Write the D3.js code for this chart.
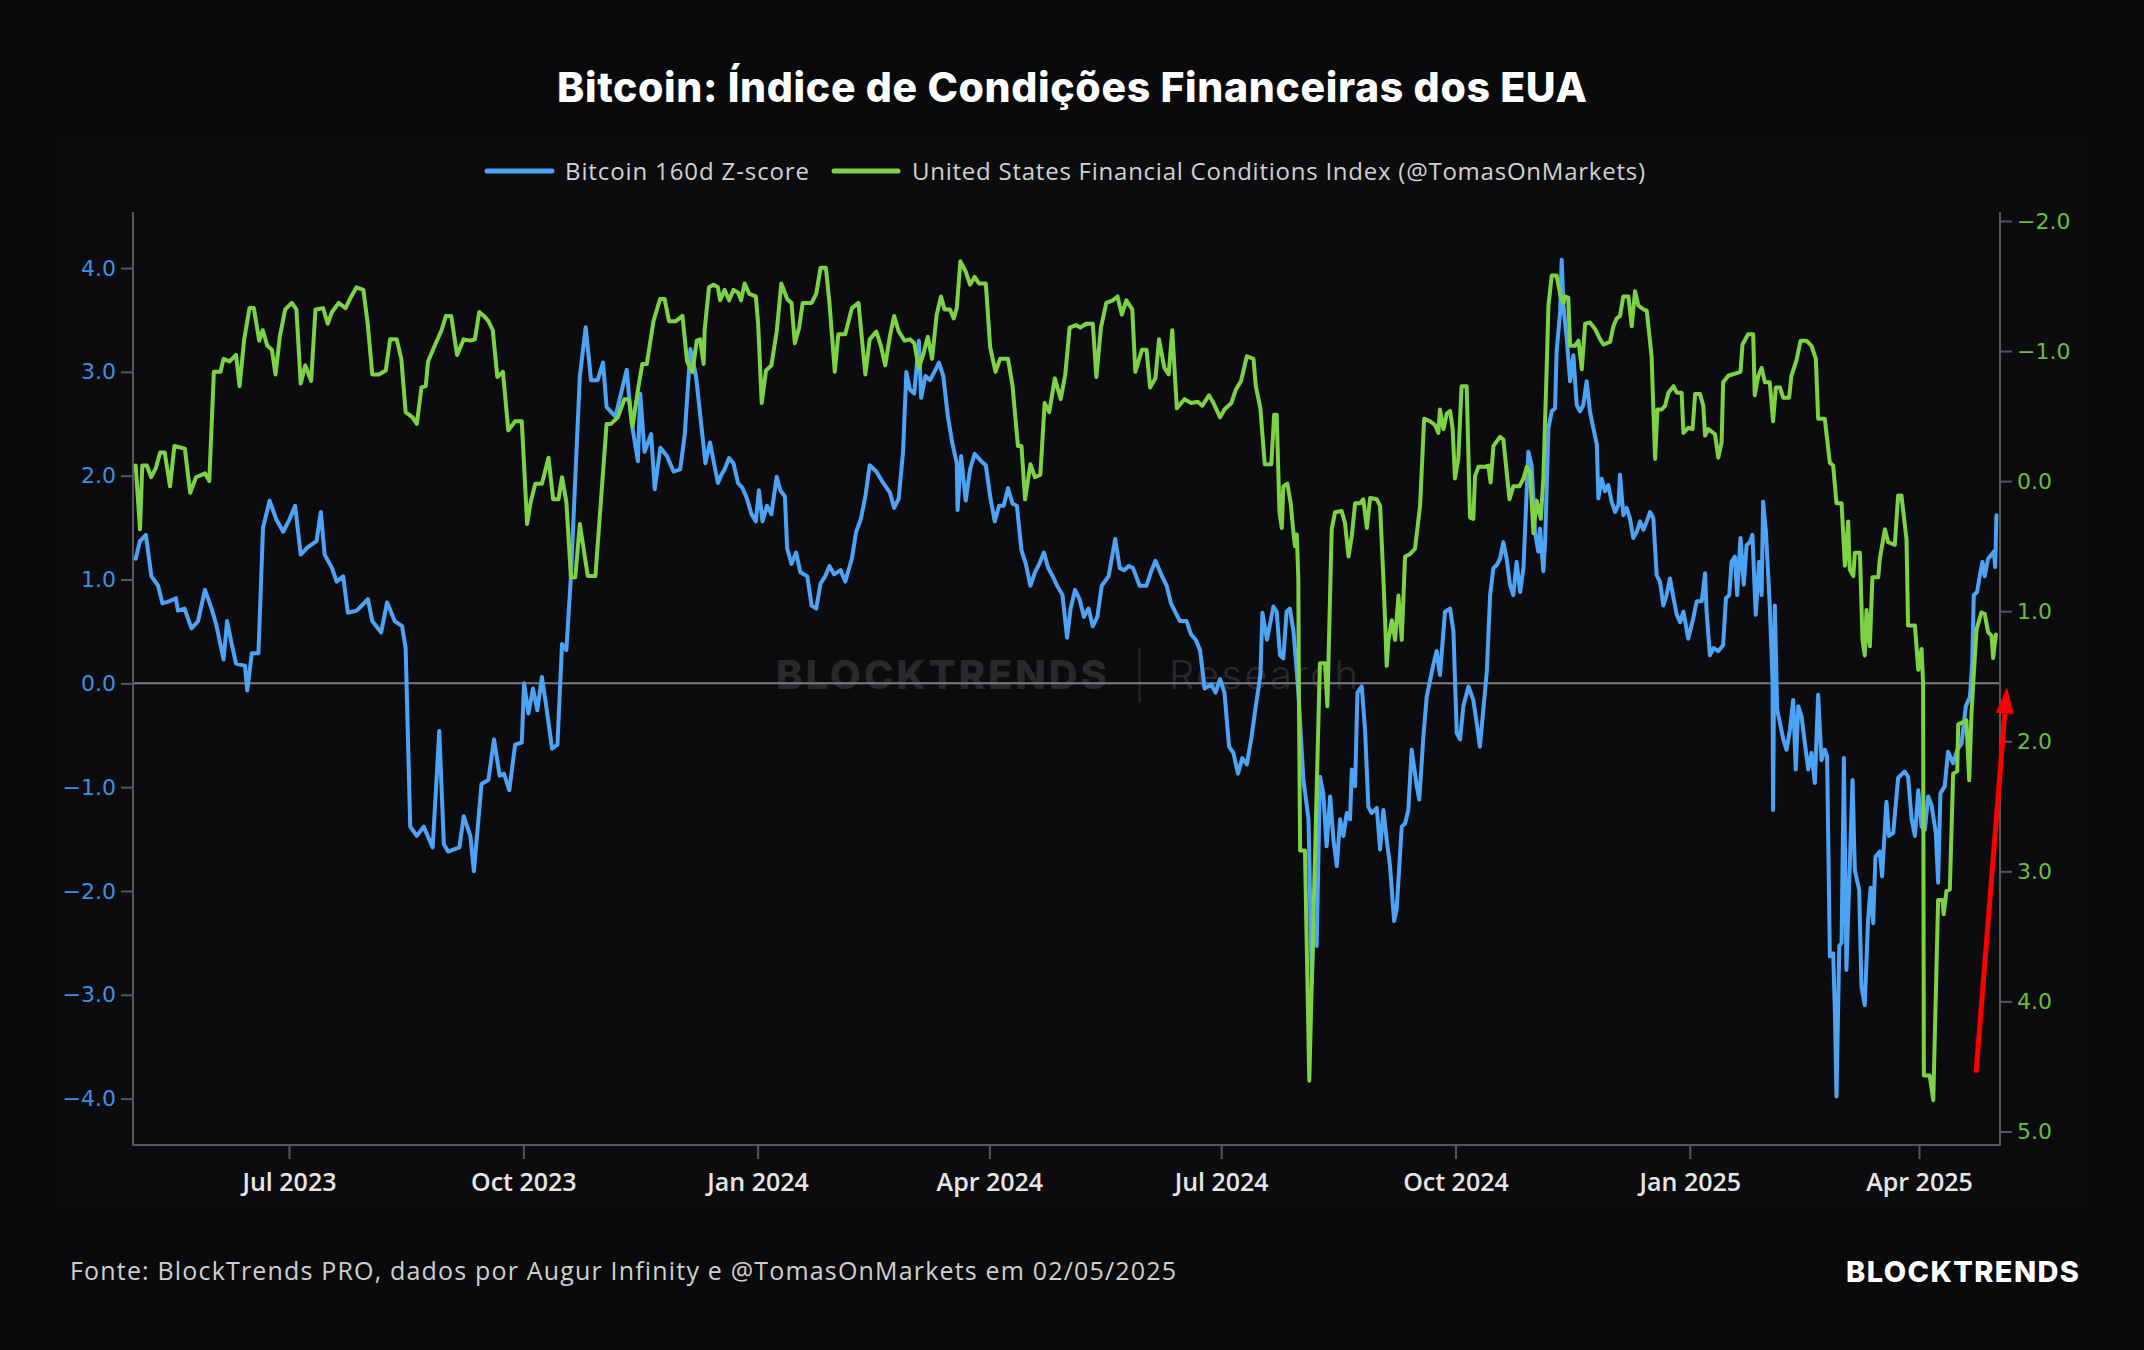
<!DOCTYPE html>
<html>
<head>
<meta charset="utf-8">
<script src="https://cdn.jsdelivr.net/npm/d3@7"></script>
<style>
  html, body { margin: 0; padding: 0; background: #0a0a0c; }
  svg { display: block; }
</style>
</head>
<body>
<svg id="chart" width="2144" height="1350"></svg>
<script>
// ---------------- DATA ----------------
const START_DATE = "2023-05-01";   // day 0 of the day offsets below
const seriesNames = ["Bitcoin 160d Z-score", "United States Financial Conditions Index (@TomasOnMarkets)"];
const titleText = "Bitcoin: Índice de Condições Financeiras dos EUA";
const sourceText = "Fonte: BlockTrends PRO, dados por Augur Infinity e @TomasOnMarkets em 02/05/2025";
const brandText = "BLOCKTRENDS";

// Bitcoin 160d Z-score (left axis): day offsets from START_DATE and values
const btcDay = [
  0.8,2.5,4.8,7.0,9.6,11.3,13.9,16.6,17.4,20.0,
  22.7,25.3,28.0,30.6,32.4,35.3,36.7,38.5,40.2,43.7,
  44.6,46.4,49.0,50.8,53.4,56.0,58.7,61.2,63.4,65.6,
  68.3,71.8,73.5,75.0,77.9,79.7,82.3,84.1,87.6,92.0,
  93.7,97.2,99.5,102.5,105.4,106.8,108.6,111.2,113.9,117.4,
  120.0,121.8,123.5,127.9,129.6,132.2,133.6,136.6,139.3,141.5,
  143.7,145.4,147.5,149.8,152.4,153.3,155.0,156.8,158.5,160.3,
  162.0,164.3,166.4,168.2,169.9,171.7,175.2,177.5,179.6,182.2,
  184.3,185.7,189.2,193.6,195.4,198.0,198.9,200.6,203.2,204.6,
  206.8,209.4,212.0,214.6,216.4,218.6,220.8,
  224.5,226.3,227.7,229.4,230.8,232.0,233.8,235.5,237.3,239.1,
  240.8,242.6,244.3,245.5,246.9,248.7,250.4,252.5,253.9,255.7,
  256.6,258.3,260.1,261.8,264.5,266.2,268.0,269.7,271.5,273.2,
  275.0,277.6,279.4,282.0,283.7,285.5,287.3,289.0,291.6,294.3,
  296.9,298.6,300.4,302.1,303.4,304.8,306.5,308.3,309.2,310.9,
  312.7,314.4,316.2,317.9,319.7,321.4,323.2,323.5,324.9,326.7,
  328.4,330.2,332.8,334.6,336.3,338.1,339.8,341.6,343.3,345.1,
  346.8,348.6,350.3,352.1,353.9,355.6,357.4,359.1,360.9,362.6,
  364.7,366.5,367.9,369.6,371.4,373.1,374.9,376.6,378.4,380.1,
  382.8,385.4,387.2,388.9,390.7,392.4,395.0,397.7,399.4,401.2,
  403.8,405.6,407.3,409.1,410.8,413.4,415.2,417.0,418.7,420.5,
  423.1,424.8,426.6,428.3,430.1,431.8,433.6,435.3,437.1,438.9,
  440.6,442.4,443.2,445.0,
  447.5,448.8,450.1,451.4,452.7,454.0,455.4,456.7,457.3,459.3,
  461.3,462.6,463.2,464.5,465.8,467.1,468.4,469.8,471.1,472.4,
  473.7,475.0,476.3,477.6,478.3,479.6,480.5,482.2,483.5,484.8,
  486.1,488.1,489.4,490.7,492.0,493.3,494.9,495.9,497.9,499.2,
  500.5,501.8,503.8,504.8,506.4,507.7,510.3,511.6,512.9,514.9,
  516.9,518.2,519.5,520.8,522.1,524.1,526.0,527.3,528.6,531.3,
  532.6,533.9,535.2,536.5,537.8,539.1,540.4,541.7,543.0,544.4,
  545.7,546.3,547.6,548.9,549.6,550.2,551.5,552.2,553.5,554.2,
  555.5,556.8,558.1,558.7,560.1,560.7,561.4,562.0,562.7,564.0,
  565.3,566.6,567.9,569.2,570.5,571.8,573.1,574.5,575.1,576.4,
  577.7,579.0,580.3,581.7,583.0,583.6,584.9,586.2,587.5,588.8,
  590.2,591.5,592.8,594.1,595.4,596.7,598.0,599.3,600.6,601.9,
  603.2,604.6,605.9,607.2,608.5,610.4,612.4,613.7,615.7,617.0,
  617.6,618.9,620.3,622.2,
  624.1,625.2,626.5,627.4,628.7,629.6,630.9,632.2,633.3,634.6,
  635.6,636.3,636.9,638.2,639.2,639.8,640.9,642.4,643.5,643.7,
  644.1,644.4,645.3,646.4,647.7,649.0,650.3,651.6,652.6,653.6,
  654.9,656.2,657.5,658.8,660.1,661.4,662.7,664.0,664.9,666.0,
  667.3,668.0,668.6,669.7,670.6,671.5,672.5,674.9,675.8,677.5,
  678.4,679.7,681.0,682.0,683.0,683.9,685.6,686.5,688.2,689.2,
  690.9,692.8,695.4,696.7,698.1,699.4,700.7,702.0,703.3,704.6,
  705.9,707.6,708.5,709.4,711.1,712.4,714.4,716.0,717.7,719.4,
  721.0,721.9,722.5,723.8,724.9,725.9,726.8,728.1,729.5,730.4,
  730.9,731.4
];
const btcZ = [
  1.20,1.37,1.43,1.03,0.94,0.77,0.79,0.82,0.70,0.72,
  0.53,0.60,0.90,0.72,0.57,0.23,0.60,0.38,0.19,0.17,
  -0.07,0.29,0.29,1.50,1.76,1.58,1.46,1.58,1.71,1.24,
  1.31,1.37,1.65,1.24,1.11,0.98,1.03,0.68,0.70,0.81,
  0.60,0.49,0.78,0.60,0.55,0.34,-1.38,-1.47,-1.38,-1.58,
  -0.46,-1.55,-1.62,-1.58,-1.28,-1.47,-1.81,-0.97,-0.93,-0.54,
  -0.89,-0.87,-1.03,-0.59,-0.57,0.00,-0.29,-0.05,-0.26,0.06,
  -0.22,-0.63,-0.59,0.38,0.32,1.03,2.96,3.43,2.92,2.92,
  3.09,2.66,2.57,3.02,2.53,2.14,2.79,2.23,2.40,1.87,
  2.27,2.19,2.04,2.06,2.40,3.22,2.96,
  2.12,2.32,2.14,1.93,2.01,2.06,2.17,2.12,1.93,1.88,
  1.78,1.63,1.56,1.86,1.56,1.71,1.63,1.99,1.86,1.80,
  1.30,1.15,1.26,1.07,1.03,0.75,0.72,0.96,1.03,1.13,
  1.05,1.09,0.98,1.20,1.46,1.58,1.80,2.10,2.04,1.93,
  1.84,1.69,1.78,2.23,3.00,2.83,2.79,3.30,2.75,2.96,
  2.92,3.00,3.09,2.96,2.57,2.32,2.12,1.67,2.19,1.76,
  2.06,2.21,2.14,2.10,1.80,1.56,1.71,1.71,1.88,1.73,
  1.71,1.28,1.15,0.94,1.07,1.15,1.26,1.11,1.03,0.94,
  0.85,0.44,0.72,0.90,0.81,0.64,0.72,0.55,0.64,0.94,
  1.03,1.39,1.11,1.09,1.13,1.11,0.94,0.94,1.07,1.18,
  1.03,0.94,0.77,0.68,0.60,0.60,0.47,0.42,0.32,-0.05,
  -0.01,-0.09,0.04,-0.09,-0.61,-0.67,-0.87,-0.72,-0.78,-0.52,
  -0.22,0.08,0.68,0.42,
  0.74,0.69,0.27,0.24,0.69,0.72,0.50,0.11,-0.09,-0.93,
  -1.31,-2.89,-2.34,-2.53,-0.90,-1.06,-1.57,-1.09,-1.51,-1.76,
  -1.31,-1.47,-1.25,-1.31,-0.83,-0.99,-0.09,-0.03,-0.45,-1.19,
  -1.25,-1.20,-1.60,-1.22,-1.51,-1.76,-2.29,-2.18,-1.38,-1.35,
  -1.22,-0.64,-0.99,-1.12,-0.51,-0.13,0.18,0.31,0.08,0.69,
  0.72,0.50,-0.48,-0.54,-0.22,-0.03,-0.16,-0.38,-0.61,0.11,
  0.85,1.11,1.14,1.20,1.36,1.20,0.95,0.85,1.17,0.88,
  1.11,1.46,2.23,2.10,1.78,1.46,1.27,1.49,1.08,1.36,
  2.46,2.62,2.65,3.19,3.58,4.08,3.64,3.48,3.32,2.91,
  3.16,2.68,2.62,2.68,2.91,2.62,2.46,2.30,1.78,1.97,
  1.85,1.91,1.75,1.65,1.72,2.01,1.62,1.69,1.59,1.40,
  1.46,1.56,1.48,1.56,1.65,1.59,1.04,0.98,0.75,0.85,
  1.01,0.82,0.66,0.59,0.69,0.43,0.63,0.79,0.79,1.06,
  0.69,0.27,0.34,0.31,
  0.37,0.82,0.85,1.17,1.22,0.85,1.40,0.95,1.33,1.36,
  1.43,1.01,0.66,1.17,0.85,1.75,1.46,0.75,0.02,-1.22,
  0.02,0.75,-0.25,-0.38,-0.54,-0.64,-0.45,-0.16,-0.83,-0.22,
  -0.32,-0.58,-0.83,-0.67,-0.96,-0.11,-0.74,-0.64,-0.70,-2.63,
  -2.60,-3.18,-3.98,-2.53,-2.50,-0.72,-2.76,-0.93,-1.80,-1.99,
  -2.92,-3.10,-2.28,-1.97,-2.31,-1.67,-1.62,-1.86,-1.14,-1.47,
  -1.44,-0.91,-0.85,-0.90,-1.31,-1.47,-1.03,-1.38,-1.41,-1.09,
  -1.17,-1.44,-1.92,-1.06,-0.99,-0.66,-0.77,-0.64,-0.58,-0.22,
  -0.13,0.21,0.85,0.88,1.04,1.17,1.03,1.20,1.24,1.27,
  1.12,1.62
];

// US Financial Conditions Index (right axis, inverted): day offsets and values
const fciDay = [
  0.8,2.5,3.4,5.2,6.9,8.7,10.4,12.2,14.3,16.0,
  20.1,22.2,24.5,28.0,29.7,31.5,34.1,35.3,37.6,40.2,
  41.6,43.4,45.5,47.2,49.3,50.7,52.5,54.3,55.7,57.4,
  59.5,62.1,63.9,65.6,67.4,69.7,71.4,74.4,76.2,77.9,
  80.5,83.2,84.9,87.5,90.2,91.9,93.7,96.3,99.0,100.7,
  103.3,105.1,106.8,109.5,111.2,113.0,114.7,115.6,118.2,120.9,
  122.6,124.7,127.0,129.6,132.2,134.0,135.7,137.5,139.3,141.0,
  142.8,145.0,147.1,149.8,152.4,154.5,155.9,157.7,160.3,162.9,
  164.7,166.8,168.2,169.9,171.7,173.4,175.2,178.3,181.3,185.7,
  187.4,190.1,192.7,194.5,195.9,198.0,199.7,201.5,204.1,206.7,
  208.5,210.2,212.9,215.5,217.3,219.4,221.1,
  222.4,223.8,224.2,225.9,227.7,229.4,230.3,232.0,233.8,235.5,
  237.3,238.5,239.9,241.7,244.3,245.2,246.6,248.3,250.4,252.5,
  254.3,256.6,258.3,259.6,261.3,262.7,266.2,268.0,269.7,271.8,
  273.2,275.3,276.7,279.4,282.0,284.6,287.3,289.0,291.6,293.4,
  295.1,296.9,298.6,300.4,302.7,304.8,306.5,308.3,310.0,311.8,
  313.5,315.3,317.0,318.4,320.5,322.0,323.2,324.6,326.7,328.4,
  330.2,331.9,334.6,336.3,338.4,340.2,343.3,345.1,347.2,348.6,
  350.0,352.1,353.9,356.0,357.7,359.5,361.7,364.0,365.8,367.5,
  370.0,371.7,374.0,376.6,378.0,379.8,381.9,384.5,386.3,388.0,
  389.8,392.1,393.3,395.9,397.7,399.1,401.2,402.6,404.7,406.4,
  407.8,409.6,412.6,415.2,417.8,419.6,422.2,424.0,426.6,428.3,
  431.0,432.7,434.8,437.1,439.7,440.6,442.4,444.1,446.7,447.8,
  448.8,449.9,450.8,451.4,453.0,454.3,455.4,456.0,456.7,457.3,
  457.5,458.0,459.9,461.6,465.6,465.8,467.8,468.7,470.4,471.7,
  474.3,475.6,477.0,478.3,479.6,481.5,482.8,484.2,485.5,488.1,
  489.4,490.7,491.4,492.0,492.7,494.0,495.3,496.6,497.9,499.2,
  501.2,503.1,505.1,506.7,509.0,511.0,512.3,512.9,514.3,515.6,
  516.9,517.9,518.8,520.1,521.4,523.4,524.7,526.0,526.7,528.0,
  530.6,531.9,532.8,533.9,536.5,537.8,539.1,540.2,541.7,544.1,
  545.7,547.0,548.3,549.6,550.9,552.5,553.5,554.8,555.5,556.8,
  558.7,560.3,561.4,562.0,563.3,564.0,565.9,567.3,568.6,569.9,
  571.8,573.8,575.8,577.1,579.7,581.0,582.3,583.6,584.9,586.9,
  588.2,589.5,590.8,592.8,594.1,596.0,596.7,597.4,598.3,600.0,
  601.3,602.6,604.6,605.9,607.8,608.5,610.4,612.1,613.1,615.0,
  616.3,617.0,618.3,620.9,622.2,623.5,
  624.1,626.1,630.9,631.7,633.9,635.9,636.5,637.9,639.2,640.5,
  642.4,643.7,644.8,646.4,647.7,650.0,650.9,652.9,654.5,656.8,
  658.8,660.5,661.4,664.0,666.0,667.3,668.6,670.6,671.9,673.2,
  673.8,675.2,675.8,677.8,678.8,679.7,680.4,681.7,682.7,685.0,
  685.6,687.6,688.9,691.5,692.8,694.1,696.1,696.7,699.4,700.7,
  702.0,702.6,702.9,705.2,706.6,708.5,710.2,710.7,711.8,713.1,
  714.4,716.0,716.4,719.6,720.7,721.6,722.3,723.6,725.5,726.8,
  728.1,729.5,730.1,731.2
];
const fciValue = [
  -0.12,0.37,-0.12,-0.12,-0.03,-0.10,-0.22,-0.22,0.04,-0.27,
  -0.25,0.09,-0.03,-0.06,0.00,-0.84,-0.84,-0.94,-0.92,-0.97,
  -0.73,-1.09,-1.33,-1.33,-1.08,-1.16,-1.04,-1.01,-0.82,-1.11,
  -1.32,-1.37,-1.32,-0.75,-0.89,-0.77,-1.32,-1.33,-1.21,-1.30,
  -1.37,-1.33,-1.40,-1.49,-1.47,-1.21,-0.82,-0.82,-0.85,-1.09,
  -1.09,-0.94,-0.53,-0.49,-0.44,-0.72,-0.73,-0.92,-1.04,-1.16,
  -1.27,-1.27,-0.97,-1.09,-1.08,-1.09,-1.30,-1.27,-1.23,-1.16,
  -0.80,-0.84,-0.39,-0.46,-0.46,0.33,0.16,0.02,0.02,-0.18,
  0.14,0.14,-0.03,0.16,0.74,0.74,0.33,0.73,0.73,-0.44,
  -0.44,-0.49,-0.63,-0.63,-0.42,-0.70,-0.90,-0.90,-1.23,-1.40,
  -1.40,-1.23,-1.23,-1.27,-0.92,-0.84,-1.08,
  -1.09,-0.90,-1.16,-1.49,-1.51,-1.49,-1.39,-1.47,-1.39,-1.47,
  -1.45,-1.39,-1.52,-1.44,-1.42,-1.21,-0.60,-0.85,-0.89,-1.15,
  -1.52,-1.40,-1.37,-1.06,-1.18,-1.37,-1.37,-1.44,-1.64,-1.64,
  -1.37,-0.84,-1.13,-1.13,-1.33,-1.37,-0.82,-1.09,-1.15,-1.04,
  -0.89,-1.11,-1.27,-1.15,-1.08,-1.09,-1.06,-0.87,-0.97,-1.11,
  -0.94,-1.28,-1.42,-1.32,-1.32,-1.25,-1.33,-1.69,-1.61,-1.51,
  -1.57,-1.52,-1.52,-1.03,-0.84,-0.94,-0.94,-0.73,-0.27,-0.27,
  0.14,-0.13,-0.03,-0.05,-0.60,-0.53,-0.79,-0.63,-0.82,-1.18,
  -1.20,-1.18,-1.21,-1.21,-0.80,-1.18,-1.37,-1.39,-1.42,-1.28,
  -1.39,-1.32,-0.84,-1.01,-1.01,-0.72,-0.79,-1.09,-0.87,-0.82,
  -1.16,-0.56,-0.63,-0.60,-0.61,-0.58,-0.66,-0.60,-0.49,-0.55,
  -0.60,-0.70,-0.77,-0.96,-0.94,-0.73,-0.56,-0.13,-0.13,-0.51,
  -0.51,0.24,0.36,0.04,0.02,0.17,0.40,0.50,0.41,0.75,
  1.55,2.84,2.84,4.61,1.53,1.40,1.40,1.73,0.37,0.24,
  0.23,0.32,0.58,0.42,0.17,0.17,0.14,0.36,0.13,0.14,
  0.19,0.75,1.09,1.42,1.22,1.07,1.22,0.88,1.22,0.58,
  0.56,0.52,0.19,-0.48,-0.46,-0.43,-0.37,-0.55,-0.40,-0.52,
  -0.54,-0.40,-0.02,-0.17,-0.73,-0.73,0.28,0.29,-0.04,-0.11,
  -0.11,-0.12,0.01,-0.27,-0.34,-0.32,-0.07,0.14,0.04,0.04,
  -0.02,-0.11,-0.07,0.40,0.15,0.29,-0.02,-0.86,-1.35,-1.58,
  -1.58,-1.42,-1.37,-1.42,-1.41,-1.04,-1.04,-1.08,-0.86,-1.21,
  -1.22,-1.17,-1.09,-1.05,-1.07,-1.19,-1.25,-1.27,-1.42,-1.42,
  -1.19,-1.46,-1.35,-1.32,-1.31,-0.96,-0.55,-0.17,-0.55,-0.55,
  -0.58,-0.68,-0.73,-0.68,-0.68,-0.37,-0.41,-0.40,-0.67,-0.67,
  -0.58,-0.35,-0.40,-0.36,-0.18,-0.30,
  -0.76,-0.81,-0.84,-1.05,-1.13,-1.13,-0.66,-0.81,-0.87,-0.76,
  -0.76,-0.46,-0.72,-0.72,-0.64,-0.64,-0.81,-0.93,-1.08,-1.08,
  -1.04,-0.94,-0.48,-0.48,-0.14,-0.12,0.17,0.17,0.65,0.31,
  0.68,0.73,0.55,0.55,1.22,1.34,0.99,1.27,0.74,0.74,
  0.60,0.37,0.47,0.49,0.11,0.11,0.45,1.11,1.11,1.45,
  1.29,1.55,4.57,4.57,4.76,3.22,3.22,3.33,3.15,3.14,
  2.25,2.23,1.87,1.84,2.30,1.79,1.55,1.14,1.01,1.02,
  1.16,1.19,1.36,1.18
];

// Axes
const leftTicks  = [-4, -3, -2, -1, 0, 1, 2, 3, 4];
const rightTicks = [-2, -1, 0, 1, 2, 3, 4, 5];
const xTickDates  = ["2023-07-01","2023-10-01","2024-01-01","2024-04-01","2024-07-01","2024-10-01","2025-01-01","2025-04-01"];
const xTickLabels = ["Jul 2023","Oct 2023","Jan 2024","Apr 2024","Jul 2024","Oct 2024","Jan 2025","Apr 2025"];
const leftDomain  = [-4.447, 4.54];
const rightDomain = [-2.069, 5.104];     // inverted axis
const xDomainDays = [-0.25, 732.8];

// Red annotation arrow (day offset, z-score on left axis)
const arrowFrom = { day: 723.4, z: -3.75 };
const arrowTo   = { day: 735.5, z: -0.04 };

if (btcDay.length !== btcZ.length) throw new Error("btc length mismatch " + btcDay.length + " vs " + btcZ.length);
if (fciDay.length !== fciValue.length) throw new Error("fci length mismatch " + fciDay.length + " vs " + fciValue.length);

// ---------------- LAYOUT / STYLE ----------------
const W = 2144, H = 1350;
const P = { left: 133, right: 2000, top: 212, bottom: 1145 };
const C = {
  bg: "#0a0a0c", panel: "#0c0c0f", axis: "#55575c", zero: "#7b7c80",
  blue: "#4da3f5", green: "#7dd246", blueText: "#3f8fe6", greenText: "#6cbd3c",
  text: "#e6e6e6", legendText: "#d2d2d2", footer: "#d0d0d0", wm: "#29292c"
};

const svg = d3.select("#chart");
svg.append("rect").attr("width", W).attr("height", H).attr("fill", C.bg);
svg.append("rect").attr("x", 55).attr("y", 140).attr("width", 2031).attr("height", 1065).attr("fill", C.panel);

const t0 = Date.parse(START_DATE + "T00:00:00Z");
const toDate = d => new Date(t0 + d * 864e5);

const x = d3.scaleUtc().domain(xDomainDays.map(toDate)).range([P.left, P.right]);
const yL = d3.scaleLinear().domain(leftDomain).range([P.bottom, P.top]);
const yR = d3.scaleLinear().domain(rightDomain).range([P.top, P.bottom]);

function fitSpacing(sel, target) {
  sel.attr("letter-spacing", 0);
  const w = sel.node().getComputedTextLength();
  const n = sel.text().length;
  if (n > 1) sel.attr("letter-spacing", ((target - w) / (n - 1)).toFixed(3));
}

// Watermark (centered in plot)
const wm = svg.append("g");
const wmY = 689;
const wm1 = wm.append("text").attr("x", 776).attr("y", wmY)
  .attr("fill", C.wm).style("font-family", "Inter, 'Open Sans', sans-serif")
  .style("font-weight", 800).style("font-size", "40px").text("BLOCKTRENDS");
fitSpacing(wm1, 331);
wm.append("line").attr("x1", 1139.5).attr("x2", 1139.5).attr("y1", 648).attr("y2", 703)
  .attr("stroke", C.wm).attr("stroke-width", 2);
const wm2 = wm.append("text").attr("x", 1169).attr("y", wmY)
  .attr("fill", C.wm).style("font-family", "Inter, 'Open Sans', sans-serif")
  .style("font-weight", 300).style("font-size", "40px").text("Research");
fitSpacing(wm2, 189);

// Zero line
svg.append("line").attr("x1", P.left).attr("x2", P.right)
  .attr("y1", yL(0)).attr("y2", yL(0)).attr("stroke", C.zero).attr("stroke-width", 2);

// Frame lines
const frame = svg.append("g").attr("stroke", C.axis).attr("stroke-width", 2);
frame.append("line").attr("x1", P.left).attr("x2", P.left).attr("y1", P.top).attr("y2", P.bottom);
frame.append("line").attr("x1", P.right).attr("x2", P.right).attr("y1", P.top).attr("y2", P.bottom);
frame.append("line").attr("x1", P.left - 1).attr("x2", P.right + 1).attr("y1", P.bottom).attr("y2", P.bottom);

// Axes
const fmt = d3.format(".1f");
const gL = svg.append("g").attr("transform", `translate(${P.left},0)`)
  .call(d3.axisLeft(yL).tickValues(leftTicks).tickFormat(fmt).tickSize(12).tickPadding(5));
gL.select(".domain").remove();
gL.selectAll(".tick line").attr("stroke", C.axis).attr("stroke-width", 2);
gL.selectAll(".tick text").attr("fill", C.blueText)
  .style("font-family", "'DejaVu Sans', Verdana, sans-serif").style("font-size", "22px");

const gR = svg.append("g").attr("transform", `translate(${P.right},0)`)
  .call(d3.axisRight(yR).tickValues(rightTicks).tickFormat(fmt).tickSize(12).tickPadding(5));
gR.select(".domain").remove();
gR.selectAll(".tick line").attr("stroke", C.axis).attr("stroke-width", 2);
gR.selectAll(".tick text").attr("fill", C.greenText)
  .style("font-family", "'DejaVu Sans', Verdana, sans-serif").style("font-size", "22px");

const xTickVals = xTickDates.map(s => new Date(s + "T00:00:00Z"));
const gX = svg.append("g").attr("transform", `translate(0,${P.bottom})`)
  .call(d3.axisBottom(x).tickValues(xTickVals).tickFormat((d, i) => xTickLabels[i]).tickSize(14).tickPadding(14));
gX.select(".domain").remove();
gX.selectAll(".tick line").attr("stroke", C.axis).attr("stroke-width", 2);
gX.selectAll(".tick text").attr("fill", C.text)
  .style("font-family", "'Open Sans', sans-serif").style("font-weight", 600).style("font-size", "25px");

// Series
const btcData = btcDay.map((d, i) => ({ date: toDate(d), v: btcZ[i] }));
const fciData = fciDay.map((d, i) => ({ date: toDate(d), v: fciValue[i] }));

const lineL = d3.line().x(d => x(d.date)).y(d => yL(d.v));
const lineR = d3.line().x(d => x(d.date)).y(d => yR(d.v));

svg.append("path").datum(btcData).attr("d", lineL).attr("fill", "none")
  .attr("stroke", C.blue).attr("stroke-width", 4).attr("stroke-linejoin", "round").attr("stroke-linecap", "round");
svg.append("path").datum(fciData).attr("d", lineR).attr("fill", "none")
  .attr("stroke", C.green).attr("stroke-width", 4).attr("stroke-linejoin", "round").attr("stroke-linecap", "round");

// Red arrow annotation
{
  const x1 = x(toDate(arrowFrom.day)), y1 = yL(arrowFrom.z);
  const x2 = x(toDate(arrowTo.day)), y2 = yL(arrowTo.z);
  const ang = Math.atan2(y2 - y1, x2 - x1);
  const headLen = 26, headHalf = 9;
  const bx = x2 - headLen * Math.cos(ang), by = y2 - headLen * Math.sin(ang);
  svg.append("line").attr("x1", x1).attr("y1", y1).attr("x2", bx).attr("y2", by)
    .attr("stroke", "#ff0000").attr("stroke-width", 5);
  const px = -Math.sin(ang), py = Math.cos(ang);
  svg.append("path")
    .attr("d", `M${x2},${y2}L${bx + px * headHalf},${by + py * headHalf}L${bx - px * headHalf},${by - py * headHalf}Z`)
    .attr("fill", "#ff0000");
}

// Title
const title = svg.append("text").attr("x", 557).attr("y", 101.5)
  .attr("fill", "#ffffff").style("font-family", "Inter, 'Open Sans', sans-serif")
  .style("font-weight", 800).style("font-size", "41px").text(titleText);
fitSpacing(title, 1030);

// Legend
const legY = 171;
const leg = svg.append("g");
leg.append("line").attr("x1", 487).attr("x2", 552).attr("y1", legY).attr("y2", legY)
  .attr("stroke", C.blue).attr("stroke-width", 5).attr("stroke-linecap", "round");
leg.append("line").attr("x1", 834).attr("x2", 898).attr("y1", legY).attr("y2", legY)
  .attr("stroke", C.green).attr("stroke-width", 5).attr("stroke-linecap", "round");
const lt1 = leg.append("text").attr("x", 565).attr("y", 179.5).attr("fill", C.legendText)
  .style("font-family", "'Open Sans', sans-serif").style("font-weight", 500).style("font-size", "24px").text(seriesNames[0]);
const lt2 = leg.append("text").attr("x", 912).attr("y", 179.5).attr("fill", C.legendText)
  .style("font-family", "'Open Sans', sans-serif").style("font-weight", 500).style("font-size", "24px").text(seriesNames[1]);
fitSpacing(lt1, 244);
fitSpacing(lt2, 733);

// Footer
const src = svg.append("text").attr("x", 70).attr("y", 1280).attr("fill", C.footer)
  .style("font-family", "'Open Sans', sans-serif").style("font-weight", 400).style("font-size", "25px").text(sourceText);
fitSpacing(src, 1106);
const brand = svg.append("text").attr("x", 1846).attr("y", 1282).attr("fill", "#ffffff")
  .style("font-family", "Inter, 'Open Sans', sans-serif").style("font-weight", 800).style("font-size", "29px").text(brandText);
fitSpacing(brand, 233);
</script>
</body>
</html>
